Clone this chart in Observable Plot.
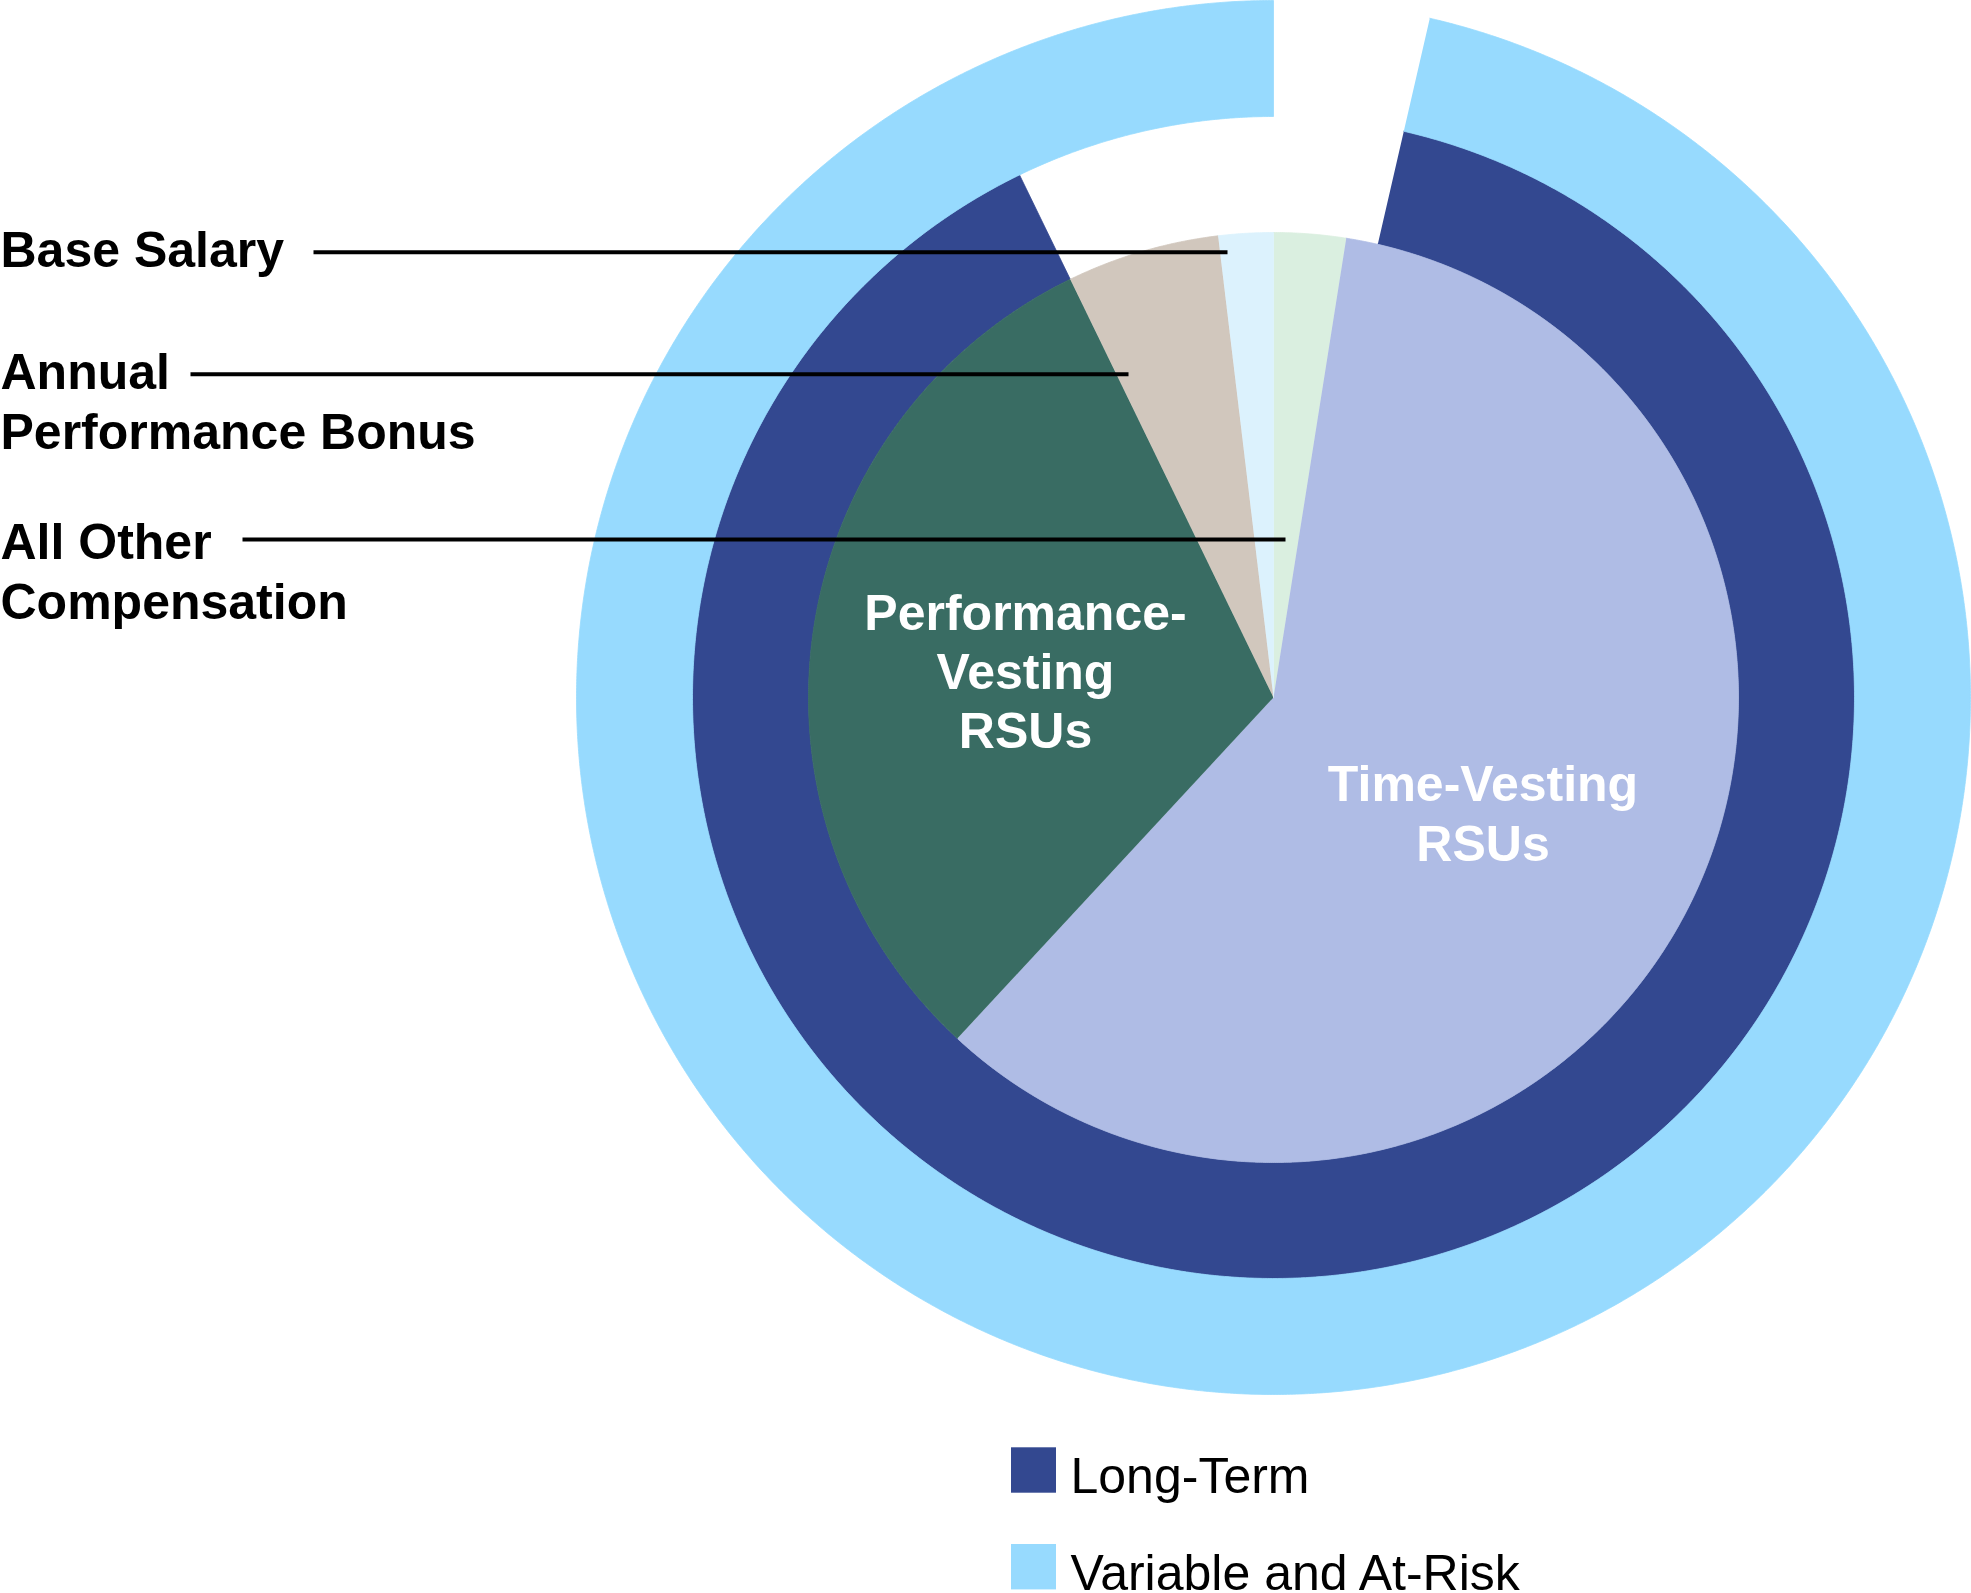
<!DOCTYPE html>
<html>
<head>
<meta charset="utf-8">
<script src="https://cdn.jsdelivr.net/npm/d3@7"></script>
<script src="https://cdn.jsdelivr.net/npm/@observablehq/plot@0.6"></script>
<style>
  html, body { margin: 0; padding: 0; background: #ffffff; }
  #chart svg { display: block; }
</style>
</head>
<body>
<div id="chart"></div>
<script>
// ---------- DATA ----------
// Inner pie, clockwise from 12 o'clock (percent of total)
const sliceNames = ["All Other Compensation", "Time-Vesting RSUs", "Performance-Vesting RSUs", "Annual Performance Bonus", "Base Salary"];
const slicePct = [2.5, 59.4, 30.9, 5.3, 1.9];
const sliceColors = ["#DAEFE0", "#AFBCE5", "#396C63", "#D1C7BD", "#DCF2FD"];

// Outer rings (start offset and share, percent of full circle)
const ringNames = ["Long-Term", "Variable and At-Risk"];
const ringStartPct = [3.6, 3.6];
const ringPct = [89.2, 96.4];
const ringColors = ["#334890", "#97DAFE"];

// Text
const calloutLabels = ["Base Salary", "Annual\nPerformance Bonus", "All Other\nCompensation"];
const insideLabels = ["Performance-\nVesting\nRSUs", "Time-Vesting\nRSUs"];
const legendLabels = ["Long-Term", "Variable and At-Risk"];

// ---------- LAYOUT ----------
const W = 1971, H = 1593;
const CX = 1273, CY = 697;
const R_PIE = 465, R_MID = 581, R_OUT = 697;
const FONT = "'Liberation Sans', Arial, Helvetica, sans-serif";

const angle = d3.scaleLinear().domain([0, 100]).range([0, 2 * Math.PI]);

function sector(key, p0, p1, r0, r1) {
  const a0 = angle(p0), a1 = angle(p1);
  const n = Math.max(2, Math.ceil((a1 - a0) / (Math.PI / 720)));
  const pts = [];
  for (let i = 0; i <= n; i++) {
    const a = a0 + (a1 - a0) * i / n;
    pts.push({key, x: CX + r1 * Math.sin(a), y: CY - r1 * Math.cos(a)});
  }
  if (r0 === 0) {
    pts.push({key, x: CX, y: CY});
  } else {
    for (let i = n; i >= 0; i--) {
      const a = a0 + (a1 - a0) * i / n;
      pts.push({key, x: CX + r0 * Math.sin(a), y: CY - r0 * Math.cos(a)});
    }
  }
  return pts;
}

// Build polygons from the data arrays
const polys = [];
ringNames.forEach((name, i) => {
  const rIn = i === 0 ? R_PIE : R_MID;
  const rOut = i === 0 ? R_MID : R_OUT;
  polys.push(...sector(name, ringStartPct[i], ringStartPct[i] + ringPct[i], rIn, rOut));
});
let acc = 0;
sliceNames.forEach((name, i) => {
  polys.push(...sector(name, acc, acc + slicePct[i], 0, R_PIE));
  acc += slicePct[i];
});

// Callout lines and labels (layout)
const callouts = calloutLabels.map((label, i) => ({
  label,
  x1: [313, 190, 242][i],
  x2: [1227, 1128, 1285][i],
  y: [251.7, 373.8, 539][i],
  ty: [266, 448.3, 618.3][i]
}));

const inside = insideLabels.map((label, i) => ({
  label,
  x: [1025, 1482.5][i],
  y: [747.3, 860][i]
}));

const legend = legendLabels.map((label, i) => ({
  label,
  x1: 1011, x2: 1056,
  y1: [1447.3, 1544][i],
  y2: [1492.7, 1589.4][i],
  tx: 1070,
  ty: [1492.7, 1589][i]
}));

const chart = Plot.plot({
  width: W,
  height: H,
  margin: 0,
  x: {domain: [0, W], range: [0, W], axis: null},
  y: {domain: [0, H], range: [0, H], axis: null},
  color: {domain: [...sliceNames, ...ringNames], range: [...sliceColors, ...ringColors]},
  style: {background: "#ffffff", overflow: "visible"},
  marks: [
    Plot.line(polys, {x: "x", y: "y", z: "key", fill: "key", stroke: "key", strokeWidth: 0.8, curve: "linear"}),
    Plot.link(callouts, {x1: "x1", x2: "x2", y1: "y", y2: "y", stroke: "#000000", strokeWidth: 4}),
    Plot.text(callouts, {x: 0, y: "ty", text: "label", textAnchor: "start", lineAnchor: "bottom",
      lineHeight: 1.2, fontSize: 50, fontWeight: "bold", fontFamily: FONT, fill: "#000000"}),
    Plot.text(inside.slice(0, 1), {x: "x", y: "y", text: "label", textAnchor: "middle", lineAnchor: "bottom",
      lineHeight: 58.7 / 50, fontSize: 50, fontWeight: "bold", fontFamily: FONT, fill: "#ffffff"}),
    Plot.text(inside.slice(1), {x: "x", y: "y", text: "label", textAnchor: "middle", lineAnchor: "bottom",
      lineHeight: 1.2, fontSize: 50, fontWeight: "bold", fontFamily: FONT, fill: "#ffffff"}),
    Plot.rect(legend, {x1: "x1", x2: "x2", y1: "y1", y2: "y2", fill: "label"}),
    Plot.text(legend, {x: "tx", y: "ty", text: "label", textAnchor: "start", lineAnchor: "bottom",
      fontSize: 50, fontWeight: "normal", fontFamily: FONT, fill: "#000000"})
  ]
});

document.getElementById("chart").appendChild(chart);
</script>
</body>
</html>
